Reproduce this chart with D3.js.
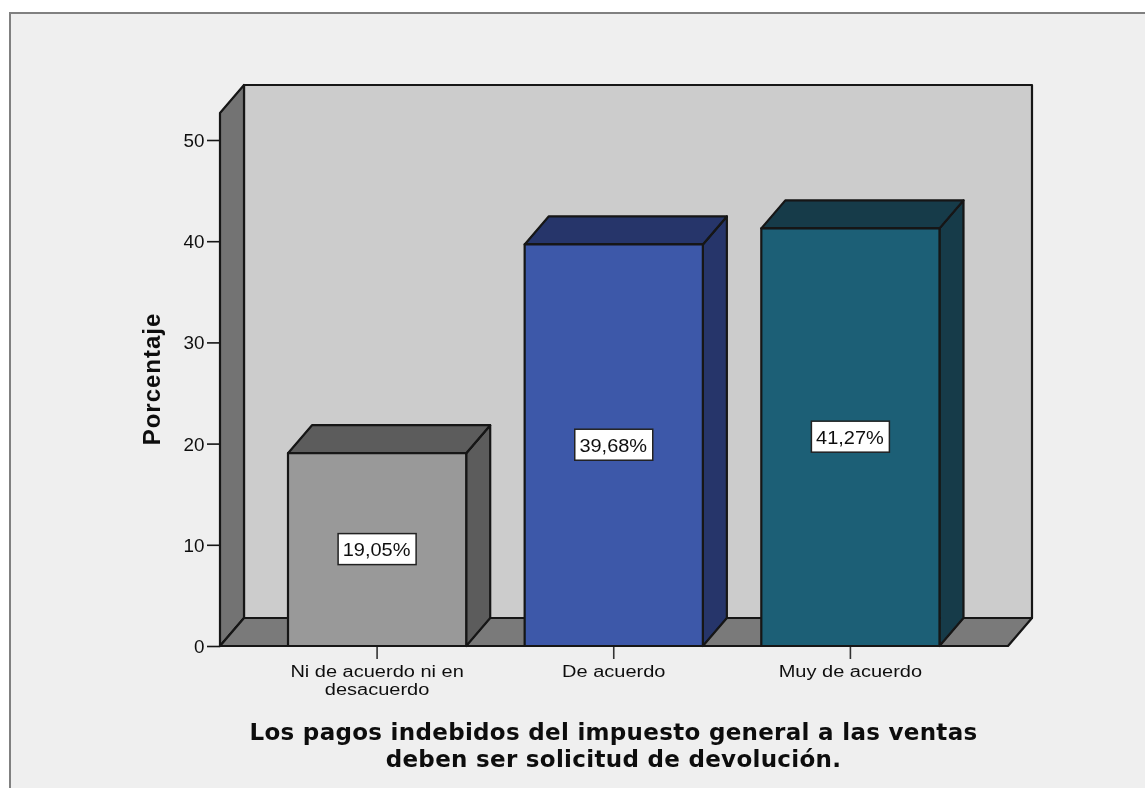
<!DOCTYPE html>
<html><head><meta charset="utf-8">
<script src="https://cdn.jsdelivr.net/npm/d3@7/dist/d3.min.js"></script>
<style>html,body{margin:0;padding:0;background:#fff;overflow:hidden}svg{display:block}text{font-family:"Liberation Sans",Arial,sans-serif;fill:#111}</style>
</head><body><svg id="c" width="1145" height="788"></svg>
<script>
const categories = ["Ni de acuerdo ni en|desacuerdo", "De acuerdo", "Muy de acuerdo"];
const values = [19.05, 39.68, 41.27];
const valueLabels = ["19,05%", "39,68%", "41,27%"];
const frontColors = ["#999999", "#3e58a9", "#1b5f76"];
const sideColors = ["#5c5c5c", "#25366b", "#123a48"];
const yTicks = [0, 10, 20, 30, 40, 50];
const xTitle = ["Los pagos indebidos del impuesto general a las ventas", "deben ser solicitud de devolución."];
const yTitle = "Porcentaje";

const svg = d3.select("#c");
svg.append("defs").append("filter").attr("id", "soft").attr("x", 0).attr("y", 0).attr("width", 1).attr("height", 1)
  .append("feGaussianBlur").attr("stdDeviation", 0.45);
const root = svg.append("g").attr("filter", "url(#soft)");
const dx = 24, dy = -28;
const x0 = 220, x1 = 1008, yBase = 646, yTop = 113;
const y = d3.scaleLinear().domain([0, 50]).range([yBase, 140]);
const x = d3.scaleBand().domain(categories).range([288, 939.5]).paddingInner(0.247).paddingOuter(0);
const line = "#141414";

root.append("rect").attr("x", 0).attr("y", 0).attr("width", 1145).attr("height", 788).attr("fill", "#fff");
root.append("rect").attr("x", 10).attr("y", 13).attr("width", 1150).attr("height", 790)
  .attr("fill", "#efefef").attr("stroke", "#808080").attr("stroke-width", 2);

const poly = (pts, fill, sw = 2.2) => root.append("polygon").attr("points", pts.map(p => p.join(",")).join(" "))
  .attr("fill", fill).attr("stroke", line).attr("stroke-width", sw).attr("stroke-linejoin", "round");

// Lettering in the reference is slightly widened; scale x keeps the reference's glyph proportions
const wideText = (px, py, s, size, stretch, anchor = "middle") => root.append("text")
  .attr("transform", `translate(${px},${py}) scale(${stretch},1)`)
  .attr("text-anchor", anchor).attr("font-size", size).attr("fill", "#222").text(s);

// Walls and floor
poly([[x0 + dx, yTop + dy], [x1 + dx, yTop + dy], [x1 + dx, yBase + dy], [x0 + dx, yBase + dy]], "#cccccc");
poly([[x0, yTop], [x0 + dx, yTop + dy], [x0 + dx, yBase + dy], [x0, yBase]], "#737373");
poly([[x0, yBase], [x0 + dx, yBase + dy], [x1 + dx, yBase + dy], [x1, yBase]], "#7a7a7a");

// Y axis
const yAxis = d3.axisLeft(y).tickValues(yTicks).tickSize(13).tickFormat("");
const gy = root.append("g").attr("transform", `translate(${x0},0)`).call(yAxis);
gy.select(".domain").remove();
gy.selectAll("line").attr("stroke", line).attr("stroke-width", 1.6);
yTicks.forEach(t => wideText(204.5, y(t) + 7, String(t), 18.5, 1.02, "end"));

// Bars
categories.forEach((c, i) => {
  const l = x(c), r = l + x.bandwidth(), t = y(values[i]);
  poly([[r, t], [r + dx, t + dy], [r + dx, yBase + dy], [r, yBase]], sideColors[i]);
  poly([[l, t], [l + dx, t + dy], [r + dx, t + dy], [r, t]], sideColors[i]);
  poly([[l, t], [r, t], [r, yBase], [l, yBase]], frontColors[i]);
});

// X baseline and ticks
const xAxis = d3.axisBottom(x).tickSize(13).tickFormat("");
const gx = root.append("g").attr("transform", `translate(0,${yBase})`).call(xAxis);
gx.select(".domain").remove();
gx.selectAll("line").attr("stroke", "#333").attr("stroke-width", 1.6);
root.append("line").attr("x1", x0).attr("x2", x1).attr("y1", yBase).attr("y2", yBase).attr("stroke", line).attr("stroke-width", 2.2);

// X labels
categories.forEach(c => {
  c.split("|").forEach((s, k) => {
    wideText(x(c) + x.bandwidth() / 2, yBase + 31 + k * 18, s, 16, 1.25);
  });
});

// Value labels
categories.forEach((c, i) => {
  const cx = x(c) + x.bandwidth() / 2, cy = y(values[i] / 2);
  root.append("rect").attr("x", cx - 39).attr("y", cy - 16).attr("width", 78).attr("height", 31)
    .attr("fill", "#fff").attr("stroke", "#222").attr("stroke-width", 1.5);
  wideText(cx - 0.5, cy + 6.5, valueLabels[i], 18.5, 1.08);
});

// Titles
xTitle.forEach((s, k) => {
  root.append("text").attr("x", 613.5).attr("y", 740 + k * 26.5).attr("text-anchor", "middle")
    .style("font-family", '"DejaVu Sans"').attr("font-weight", "bold").attr("font-size", 23)
    .attr("letter-spacing", 0.3).attr("fill", "#000").text(s);
});
root.append("text").attr("transform", "translate(160,379) rotate(-90)").attr("text-anchor", "middle")
  .attr("font-weight", "bold").attr("font-size", 24).attr("letter-spacing", 1).attr("fill", "#000").text(yTitle);
</script></body></html>
